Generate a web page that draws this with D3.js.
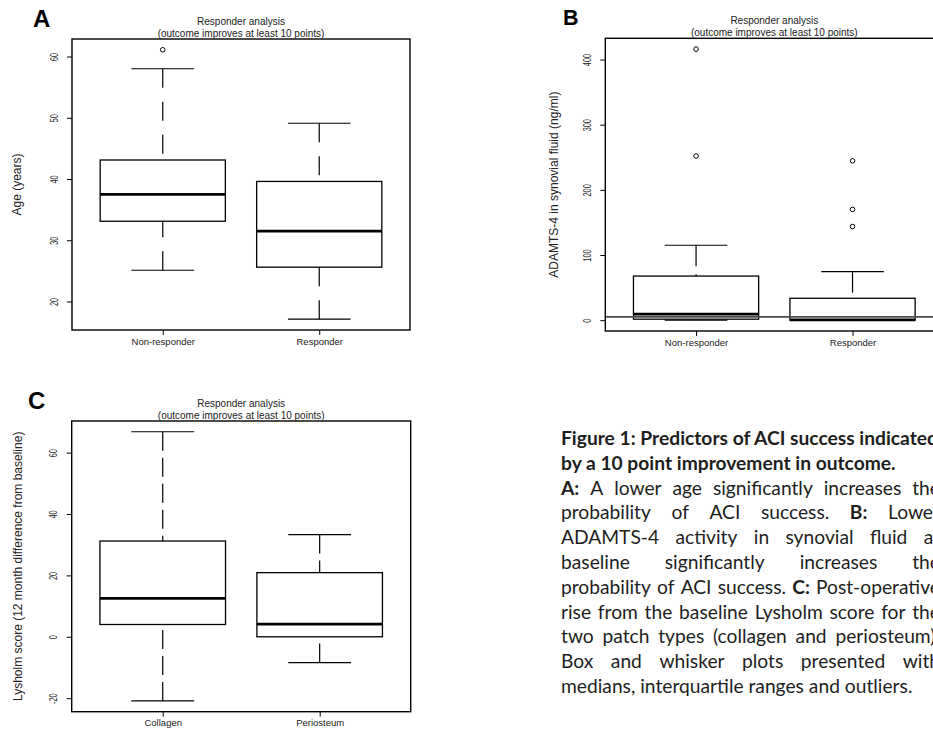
<!DOCTYPE html>
<html>
<head>
<meta charset="utf-8">
<script src="https://cdn.jsdelivr.net/npm/d3@7"></script>
<style>
body { margin: 0; background: #fff; overflow: hidden; }
svg { display: block; }
</style>
</head>
<body>
<div id="chart"></div>
<script>
// Panel A - age by responder status (box stats)
var ageGroups = ["Non-responder", "Responder"];
var ageLow  = [25.1, 17.1];
var ageQ1   = [33.1, 25.6];
var ageMed  = [37.5, 31.5];
var ageQ3   = [43.1, 39.6];
var ageHigh = [58.0, 49.1];
var ageOut  = [[61.1], []];
var ageTicks = [20, 30, 40, 50, 60];

// Panel B - ADAMTS-4
var adamGroups = ["Non-responder", "Responder"];
var adamLow  = [0, 0];
var adamQ1   = [1.5, 0];
var adamMed  = [9.2, 0.5];
var adamQ3   = [67.7, 33.6];
var adamHigh = [115, 74.5];
var adamOut  = [[252, 416], [143.7, 170, 244.6]];
var adamTicks = [0, 100, 200, 300, 400];
var adamRefLine = 5;

// Panel C - Lysholm change by patch type
var patchGroups = ["Collagen", "Periosteum"];
var lysLow  = [-20.9, -8.4];
var lysQ1   = [4.0, 0];
var lysMed  = [12.5, 4.1];
var lysQ3   = [31.2, 20.9];
var lysHigh = [66.8, 33.3];
var lysOut  = [[], []];
var lysTicks = [-20, 0, 20, 40, 60];

var titleLines = ["Responder analysis", "(outcome improves at least 10 points)"];

var captionLines = [
  [{t: "Figure 1: Predictors of ACI success indicated", b: true}],
  [{t: "by a 10 point improvement in outcome.", b: true}],
  [{t: "A:", b: true}, {t: "A lower age significantly increases the"}],
  [{t: "probability of ACI success."}, {t: "B:", b: true}, {t: "Lower"}],
  [{t: "ADAMTS-4 activity in synovial fluid at"}],
  [{t: "baseline significantly increases the"}],
  [{t: "probability of ACI success."}, {t: "C:", b: true}, {t: "Post-operative"}],
  [{t: "rise from the baseline Lysholm score for the"}],
  [{t: "two patch types (collagen and periosteum)."}],
  [{t: "Box and whisker plots presented with"}],
  [{t: "medians, interquartile ranges and outliers."}]
];
var captionJustify = [false, false, true, true, true, true, true, true, true, true, false];

var W = 933, H = 732;
var svg = d3.select("#chart").append("svg").attr("width", W).attr("height", H);

var axisFont = "'Liberation Sans', Arial, sans-serif";

function drawPanel(p) {
  var g = svg.append("g").attr("transform", "translate(" + p.left + "," + p.top + ")");
  var n = p.groups.length;

  // R style 4% axis extension
  var all = p.low.concat(p.high, d3.merge(p.out));
  var lo = d3.min(all), hi = d3.max(all), pad = (hi - lo) * 0.04;
  var y = d3.scaleLinear().domain([lo - pad, hi + pad]).range([p.height, 0]);
  var x = d3.scaleLinear().domain([0.5 - 0.04 * n, n + 0.5 + 0.04 * n]).range([0, p.width]);

  var idx = d3.range(n);
  var boxes = g.selectAll(".bx").data(idx).enter().append("g").attr("class", "bx");

  // whiskers, dashed from the cap toward the box
  boxes.append("line")
    .attr("x1", function(i) { return x(i + 1); }).attr("x2", function(i) { return x(i + 1); })
    .attr("y1", function(i) { return y(p.high[i]); }).attr("y2", function(i) { return y(p.q3[i]); })
    .attr("stroke", "#000").attr("stroke-width", 1.2).attr("stroke-dasharray", p.dash);
  boxes.append("line")
    .attr("x1", function(i) { return x(i + 1); }).attr("x2", function(i) { return x(i + 1); })
    .attr("y1", function(i) { return y(p.low[i]); }).attr("y2", function(i) { return y(p.q1[i]); })
    .attr("stroke", "#000").attr("stroke-width", 1.2).attr("stroke-dasharray", p.dash);

  // caps
  [p.high, p.low].forEach(function(arr) {
    boxes.append("line")
      .attr("x1", function(i) { return x(i + 1 - 0.2); }).attr("x2", function(i) { return x(i + 1 + 0.2); })
      .attr("y1", function(i) { return y(arr[i]); }).attr("y2", function(i) { return y(arr[i]); })
      .attr("stroke", "#000").attr("stroke-width", 1.2);
  });

  boxes.append("rect")
    .attr("x", function(i) { return x(i + 1 - 0.4); })
    .attr("width", function(i) { return x(i + 1 + 0.4) - x(i + 1 - 0.4); })
    .attr("y", function(i) { return y(p.q3[i]); })
    .attr("height", function(i) { return y(p.q1[i]) - y(p.q3[i]); })
    .attr("fill", "#fff").attr("stroke", "#000").attr("stroke-width", 1.3);

  boxes.append("line")
    .attr("x1", function(i) { return x(i + 1 - 0.4); }).attr("x2", function(i) { return x(i + 1 + 0.4); })
    .attr("y1", function(i) { return y(p.med[i]); }).attr("y2", function(i) { return y(p.med[i]); })
    .attr("stroke", "#000").attr("stroke-width", 2.7);

  // outliers
  var outPts = [];
  p.out.forEach(function(arr, i) { arr.forEach(function(v) { outPts.push({i: i, v: v}); }); });
  g.selectAll(".out").data(outPts).enter().append("circle")
    .attr("cx", function(d) { return x(d.i + 1); })
    .attr("cy", function(d) { return y(d.v); })
    .attr("r", 2.3).attr("fill", "none").attr("stroke", "#000").attr("stroke-width", 1);

  if (p.refLine != null) {
    g.append("line").attr("x1", 0).attr("x2", p.width)
      .attr("y1", y(p.refLine)).attr("y2", y(p.refLine))
      .attr("stroke", "#4a4a4a").attr("stroke-width", 1.8);
  }

  // frame
  g.append("rect").attr("width", p.width).attr("height", p.height)
    .attr("fill", "none").attr("stroke", "#000").attr("stroke-width", 1.4);

  // y axis, labels rotated like R's default las=0
  var ya = g.append("g")
    .call(d3.axisLeft(y).tickValues(p.ticks).tickSize(5).tickFormat(function(d) { return String(d); }));
  ya.select(".domain").remove();
  ya.selectAll("line").attr("stroke", "#000");
  ya.selectAll("text")
    .attr("transform", "rotate(-90) scale(0.7,1)")
    .attr("x", 0).attr("y", -14.5).attr("dy", null)
    .attr("text-anchor", "middle")
    .attr("font-family", axisFont).attr("font-size", 10.5).attr("fill", "#222");

  var xa = g.append("g").attr("transform", "translate(0," + p.height + ")")
    .call(d3.axisBottom(x).tickValues(idx.map(function(i) { return i + 1; })).tickSize(5)
      .tickFormat(function(d) { return p.groups[d - 1]; }));
  xa.select(".domain").remove();
  xa.selectAll("line").attr("stroke", "#000");
  xa.selectAll("text").attr("font-family", axisFont).attr("font-size", 9.5).attr("fill", "#222");

  // title
  g.selectAll(".ttl").data(titleLines).enter().append("text")
    .attr("x", p.width / 2)
    .attr("y", function(d, i) { return i === 0 ? -14 : -2.5; })
    .attr("text-anchor", "middle")
    .attr("font-family", axisFont).attr("font-size", 10).attr("fill", "#222")
    .text(function(d) { return d; });

  // y label
  g.append("text")
    .attr("transform", "rotate(-90)")
    .attr("x", -p.height / 2).attr("y", -p.ylabOff)
    .attr("text-anchor", "middle")
    .attr("font-family", axisFont).attr("font-size", 12).attr("fill", "#222")
    .text(p.ylab);

  // panel letter
  svg.append("text")
    .attr("x", p.letterX).attr("y", p.letterY)
    .attr("font-family", "'Liberation Sans', Arial, sans-serif")
    .attr("font-weight", "bold").attr("font-size", p.letterSize)
    .text(p.letter);
}

drawPanel({
  left: 72, top: 39, width: 338, height: 291,
  groups: ageGroups, low: ageLow, q1: ageQ1, med: ageMed, q3: ageQ3, high: ageHigh, out: ageOut,
  ticks: ageTicks, dash: "19,14", ylab: "Age (years)", ylabOff: 51,
  letter: "A", letterX: 33, letterY: 27, letterSize: 24
});
drawPanel({
  left: 605.3, top: 38.3, width: 338, height: 292.7,
  groups: adamGroups, low: adamLow, q1: adamQ1, med: adamMed, q3: adamQ3, high: adamHigh, out: adamOut,
  ticks: adamTicks, dash: "21,8", refLine: adamRefLine,
  ylab: "ADAMTS-4 in synovial fluid (ng/ml)", ylabOff: 47,
  letter: "B", letterX: 563, letterY: 25, letterSize: 21.5
});
drawPanel({
  left: 71.7, top: 421, width: 339, height: 290.7,
  groups: patchGroups, low: lysLow, q1: lysQ1, med: lysMed, q3: lysQ3, high: lysHigh, out: lysOut,
  ticks: lysTicks, dash: "19,7",
  ylab: "Lysholm score (12 month difference from baseline)", ylabOff: 50,
  letter: "C", letterX: 28, letterY: 409, letterSize: 24
});

// caption text block, justified line by line
var capX = 561, capRight = 940, capBase = 445, capStep = 24.8;
var cap = svg.append("g").attr("font-family", "Lato, 'Open Sans', sans-serif").attr("fill", "#1e1e1e");

var probe = cap.append("text").attr("font-size", 20).attr("font-weight", "bold").text(captionLines[0][0].t);
var capSize = 20 * (capRight - 2 - capX) / probe.node().getComputedTextLength();
probe.remove();
cap.attr("font-size", capSize);

function measure(word, bold) {
  var t = cap.append("text").attr("font-weight", bold ? "bold" : "normal").text(word);
  var w = t.node().getComputedTextLength();
  t.remove();
  return w;
}

captionLines.forEach(function(segs, li) {
  var words = [];
  segs.forEach(function(s) {
    s.t.split(" ").forEach(function(w) { words.push({w: w, b: !!s.b}); });
  });
  var t = cap.append("text").attr("y", capBase + li * capStep);
  if (captionJustify[li]) {
    var widths = words.map(function(d) { return measure(d.w, d.b); });
    var gap = (capRight - capX - d3.sum(widths)) / (words.length - 1);
    var xx = capX;
    words.forEach(function(d, k) {
      t.append("tspan").attr("x", xx).attr("font-weight", d.b ? "bold" : "normal").text(d.w);
      xx += widths[k] + gap;
    });
  } else {
    t.attr("x", capX);
    words.forEach(function(d, k) {
      t.append("tspan").attr("font-weight", d.b ? "bold" : "normal").text((k > 0 ? " " : "") + d.w);
    });
  }
});
</script>
</body>
</html>
